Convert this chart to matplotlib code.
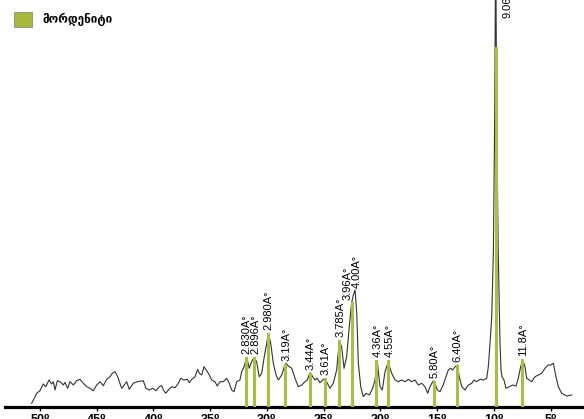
import matplotlib
matplotlib.use("Agg")
import matplotlib.pyplot as plt
from matplotlib.patches import Patch

# XRD trace, 2theta (deg) and intensity (arb. units)
two_theta = [50.73, 50.50, 50.29, 50.00, 49.71, 49.49, 49.20, 48.97, 48.82, 48.67,
             48.47, 48.17, 47.94, 47.79, 47.56, 47.35, 47.06, 46.76, 46.47, 46.18,
             45.88, 45.59, 45.30, 45.00, 44.71, 44.42, 44.12, 43.83, 43.63, 43.39,
             43.15, 43.01, 42.80, 42.57, 42.36, 42.13, 41.78, 41.42, 40.90, 40.66,
             40.37, 40.07, 39.78, 39.49, 39.27, 39.13, 38.92, 38.69, 38.39, 38.10,
             37.81, 37.60, 37.31, 37.02, 36.84, 36.63, 36.34, 36.10, 35.96, 35.75,
             35.55, 35.31, 35.08, 34.87, 34.58, 34.38, 34.14, 33.85, 33.55, 33.32,
             33.11, 32.90, 32.67, 32.38, 32.23, 32.02, 31.79, 31.56, 31.35, 31.14,
             30.91, 30.68, 30.46, 30.24, 30.02, 29.88, 29.67, 29.44, 29.20, 29.00,
             28.70, 28.47, 28.32, 28.12, 27.82, 27.53, 27.24, 26.94, 26.65, 26.45,
             26.21, 25.97, 25.77, 25.57, 25.33, 25.09, 24.89, 24.68, 24.45, 24.16,
             23.86, 23.63, 23.42, 23.21, 22.98, 22.75, 22.54, 22.39, 22.24, 22.09,
             21.95, 21.74, 21.51, 21.28, 20.98, 20.69, 20.48, 20.33, 20.25, 20.04,
             19.84, 19.60, 19.40, 19.22, 19.01, 18.72, 18.43, 18.13, 17.84, 17.55,
             17.25, 16.96, 16.67, 16.37, 16.08, 15.84, 15.64, 15.40, 15.28, 14.99,
             14.76, 14.47, 14.23, 14.02, 13.81, 13.64, 13.43, 13.23, 13.06, 12.84,
             12.55, 12.26, 11.96, 11.76, 11.52, 11.23, 10.94, 10.64, 10.50, 10.35,
             10.20, 10.05, 9.93, 9.85, 9.77, 9.63, 9.47, 9.38, 9.29, 9.12,
             8.94, 8.65, 8.35, 8.06, 7.86, 7.65, 7.47, 7.27, 7.12, 6.89,
             6.68, 6.39, 6.10, 5.80, 5.51, 5.22, 5.00, 4.77, 4.54, 4.33,
             4.03, 3.59, 3.15]
intensity = [3.7, 8.7, 13.7, 16.3, 23, 20.3, 27, 23, 25.3, 17,
             26.3, 24.7, 22, 24.7, 18.7, 25.3, 22, 26.3, 27.7, 23.7,
             20.3, 18.7, 16.3, 22, 25.3, 21.3, 27.7, 30.3, 33.7, 35.3,
             30.3, 25.3, 18.7, 22, 25.3, 17.7, 23.7, 25.3, 26.3, 18.7,
             17, 18.7, 16.3, 20.3, 21.3, 17, 13.7, 17, 20.3, 19.3,
             23.7, 28.7, 27, 27.7, 24.3, 27.7, 30.3, 37.7, 33.7, 32,
             40.3, 36.3, 32, 27, 25.3, 21, 25.3, 25.3, 28.7, 23.7,
             17, 15.3, 25.3, 27, 35.3, 40.3, 49.7, 38.7, 45.3, 49.7,
             45.3, 30.3, 33.7, 50.3, 63.7, 73.7, 63.7, 43.7, 32, 27,
             32, 40.3, 43.7, 41, 38.7, 28.7, 20.3, 22, 25.3, 27,
             34.3, 30.3, 27, 28.7, 24.3, 27, 28.7, 23.7, 18.7, 23.7,
             37, 65.3, 60.3, 38.7, 50.3, 80.3, 104.3, 112, 117, 93.7,
             43.7, 20.3, 10.3, 13.7, 12, 18.7, 27, 41, 42, 20.3,
             17, 35.3, 42, 41, 33.7, 27, 25.3, 27, 25.3, 27.7,
             25.3, 27, 22, 23.7, 20.3, 13.7, 20.3, 25.3, 26, 17,
             15.3, 22, 30.3, 37, 38.7, 37, 40.3, 42, 30.3, 20.3,
             17, 22, 23.7, 27, 25.3, 27.7, 27, 28.7, 40.3, 63.7,
             90, 157, 300, 480, 300, 157, 64, 37, 30, 27,
             18.7, 20.3, 22, 21, 28.7, 40.3, 47, 40.3, 28.7, 27,
             25.3, 30.3, 32, 33.7, 38.7, 42, 42, 43.7, 30.3, 20.3,
             13.7, 11, 12]

# mordenite reflections: position and bar height
peak_pos = [31.79, 31.12, 29.88, 28.35, 26.18, 24.86, 23.57, 22.45, 20.31, 19.28,
            15.26, 13.23, 9.82, 7.49]
peak_top = [50, 50, 74, 43, 34, 29, 67, 105, 47, 47, 26, 42, 360, 48]

# d-spacing labels and where they sit
labels = ["2.830A°", "2.896A°", "2.980A°", "3.19A°", "3.44A°", "3.61A°", "3.785A°",
          "3.96A°", "4.00A°", "4.36A°", "4.55A°", "5.80A°", "6.40A°", "9.06A°", "11.8A°"]
label_x = [31.85, 31.00, 29.85, 28.30, 26.15, 24.80, 23.55,
           22.86, 22.07, 20.28, 19.22, 15.22, 13.20, 8.77, 7.45]
label_y = [53, 53, 77, 46, 37, 32, 70, 107, 119, 50, 50, 29, 45, 389, 51]

ticks = [50, 45, 40, 35, 30, 25, 20, 15, 10, 5]
tick_labels = ["50⁰", "45⁰", "40⁰", "35⁰", "30⁰", "25⁰", "20⁰", "15⁰", "10⁰", "5⁰"]

green = "#a9c13a"
fam = ["Liberation Sans", "DejaVu Sans"]

fig = plt.figure(figsize=(5.84, 4.19), dpi=100)
ax = fig.add_axes([0, 12 / 419, 1, 407 / 419])

ax.plot(two_theta, intensity, color="#333333", lw=0.8, zorder=2)
ax.bar(peak_pos, peak_top, width=0.26, color=green, zorder=3)

for x, y, lab in zip(label_x, label_y, labels):
    ax.text(x, y, lab, rotation=90, ha="center", va="bottom",
            fontsize=8, family=fam, clip_on=False)

ax.set_xlim(53.52, 2.07)
ax.set_ylim(0, 407)
ax.set_xticks(ticks)
ax.set_xticklabels(tick_labels, fontsize=9, fontweight="bold", family=fam)
ax.tick_params(axis="x", length=3, width=1, pad=2)
ax.set_yticks([])
for s in ["left", "top", "right"]:
    ax.spines[s].set_visible(False)
ax.spines["bottom"].set_linewidth(2.3)
ax.spines["bottom"].set_bounds(53.1, 2.07)

handle = Patch(facecolor="#a8b83c", edgecolor="#8a8a7a", lw=0.6, label="მორდენიტი")
ax.legend(handles=[handle], loc="upper left", bbox_to_anchor=(0.024, 0.971),
          bbox_transform=fig.transFigure, frameon=False, borderpad=0, borderaxespad=0,
          handlelength=1.5, handleheight=1.5, handletextpad=0.9,
          prop={"family": "DejaVu Sans", "weight": "bold", "size": 8.5})

fig.savefig("out.png", dpi=100)
